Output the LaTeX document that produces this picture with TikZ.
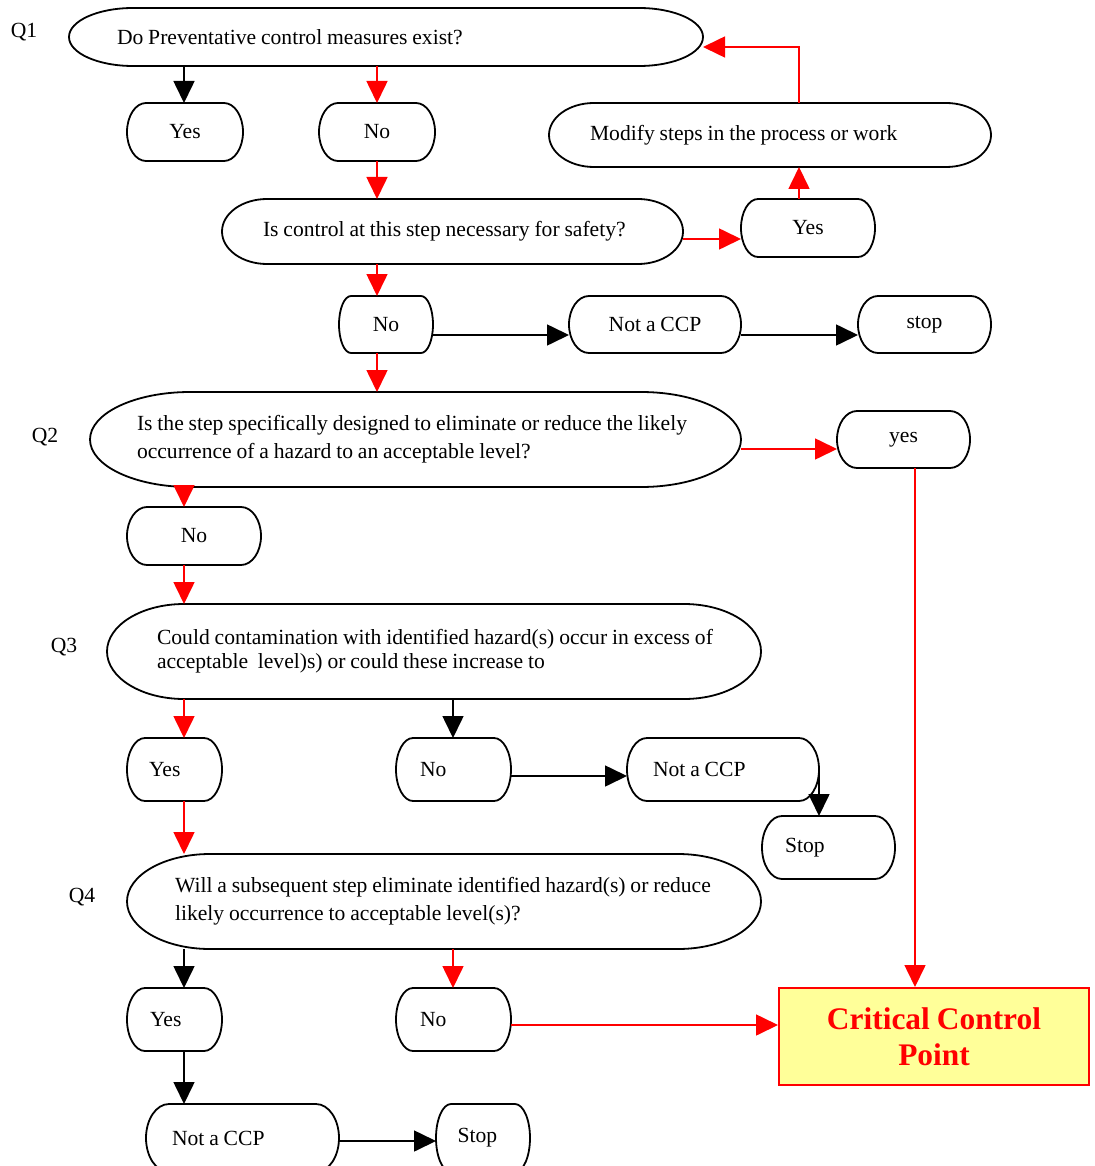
\documentclass[tikz,border=0pt]{standalone}
\usepackage{fontspec}
\setmainfont[WordSpace=0.9]{Liberation Serif}
\usetikzlibrary{arrows.meta,calc}
\definecolor{ccpfill}{RGB}{255,255,153}
\tikzset{
  box/.style={inner sep=0pt, outer sep=0pt, font=\fontsize{10.8pt}{14pt}\selectfont},
  lpad/.style={text width={#1*0.5pt}, align=flush left},
  outl/.style={draw=black, line width=0.9pt},
  conn/.style={line width=0.8pt, -{Triangle[length=11pt,width=10.5pt]}},
  blk/.style={conn, draw=black},
  rd/.style={conn, draw=red},
  qlab/.style={font=\fontsize{10.8pt}{14pt}\selectfont, inner sep=0pt},
  ccpbox/.style={draw=red, line width=1pt, fill=ccpfill, text=red,
    font=\fontsize{15.7pt}{18pt}\selectfont\bfseries, align=center, inner sep=0pt}
}
% #1 options, #2 name, #3 x1, #4 y1, #5 x2, #6 y2, #7 end depth, #8 text
\newcommand{\tnode}[8][]{%
  \node[box,#1, minimum width={(#5-#3)*0.5pt}, minimum height={(#6-#4)*0.5pt}] (#2) at ({(#3+#5)/2},{-(#4+#6)/2}) {#8};
  \draw[outl] ([xshift={#7*0.5pt}]#2.north west) -- ([xshift={-#7*0.5pt}]#2.north east)
     arc[start angle=90, end angle=-90, x radius=#7, y radius={(#6-#4)/2}]
     -- ([xshift={#7*0.5pt}]#2.south west)
     arc[start angle=270, end angle=90, x radius=#7, y radius={(#6-#4)/2}] -- cycle;
}
\begin{document}
\begin{tikzpicture}[x=0.5pt,y=0.5pt]
\useasboundingbox (0,0) rectangle (1094,-1166);

% labels
\node[qlab] (lq1) at (24,-32) {Q1};
\node[qlab] (lq2) at (45,-437) {Q2};
\node[qlab] (lq3) at (64,-647) {Q3};
\node[qlab] (lq4) at (82,-897) {Q4};

% nodes
\tnode[lpad=538]{q1}{69}{8}{703}{66}{64}{\mbox{Do Preventative control measures exist?}}
\tnode{yes1}{127}{103}{243}{161}{19}{Yes}
\tnode{no1}{319}{103}{435}{161}{19}{No}
\tnode[lpad=360]{mod}{549}{103}{991}{167}{45}{\mbox{Modify steps in the process or work}}
\tnode[lpad=379]{q1b}{222}{199}{683}{264}{45}{\mbox{Is control at this step necessary for safety?}}
\tnode{yes2}{741}{199}{875}{257}{17}{Yes}
\tnode{no2}{339}{296}{433}{353}{12}{No}
\tnode{nccp1}{569}{296}{741}{353}{20}{Not a CCP}
\tnode{stop1}{858}{296}{991}{353}{20}{stop}
\tnode[lpad=557]{q2}{90}{392}{741}{487}{100}{\mbox{Is the step specifically designed to eliminate or reduce the likely}\\\mbox{occurrence of a hazard to an acceptable level?}}
\tnode{yes3}{837}{411}{970}{468}{20}{yes}
\tnode{no3}{127}{507}{261}{565}{20}{No}
\tnode[lpad=554, font=\fontsize{10.8pt}{12pt}\selectfont]{q3}{107}{604}{761}{699}{77}{\mbox{Could contamination with identified hazard(s) occur in excess of}\\\mbox{acceptable\ \ level)s) or could these increase to}}
\tnode[lpad=51]{yes4}{127}{738}{222}{801}{18}{Yes}
\tnode[lpad=67]{no4}{396}{738}{511}{801}{17}{No}
\tnode[lpad=140]{nccp2}{627}{738}{819}{801}{20}{Not a CCP}
\tnode[lpad=87]{stop2}{762}{816}{895}{879}{20}{Stop}
\tnode[lpad=538]{q4}{127}{854}{761}{949}{83}{\mbox{Will a subsequent step eliminate identified hazard(s) or reduce}\\\mbox{likely occurrence to acceptable level(s)?}}
\tnode[lpad=49]{yes5}{127}{988}{222}{1051}{18}{Yes}
\tnode[lpad=67]{no5}{396}{988}{511}{1051}{17}{No}
\tnode[lpad=141]{nccp3}{146}{1104}{339}{1172}{23}{Not a CCP}
\tnode[lpad=51]{stop3}{436}{1104}{530}{1172}{15}{Stop}
\node[ccpbox, minimum width=155pt, minimum height=48.5pt] (ccp) at (934,-1036.5) {Critical Control\\Point};

% helper coordinates
\coordinate (cA) at (184,0);
\coordinate (cB) at (377,0);
\coordinate (cC) at (453,0);
\coordinate (cD) at (799,0);
\coordinate (cE) at (915,0);
\coordinate (r47) at (0,-47);
\coordinate (r239) at (0,-239);
\coordinate (r335) at (0,-335);
\coordinate (r449) at (0,-449);
\coordinate (r776) at (0,-776);
\coordinate (r1025) at (0,-1025);
\coordinate (r1141) at (0,-1141);

% connectors
\draw[blk] (q1.south -| cA) -- (yes1.north -| cA);
\draw[rd] (q1.south -| cB) -- (no1.north -| cB);
\draw[rd] (no1.south -| cB) -- (q1b.north -| cB);
\draw[rd] (q1b.east |- r239) -- (yes2.west |- r239);
\draw[rd] (yes2.north -| cD) -- (mod.south -| cD);
\draw[rd] (mod.north -| cD) -- (cD |- r47) -- (q1.east |- r47);
\draw[rd] (q1b.south -| cB) -- (no2.north -| cB);
\draw[blk] (no2.east |- r335) -- (nccp1.west |- r335);
\draw[blk] (nccp1.east |- r335) -- (stop1.west |- r335);
\draw[rd] (no2.south -| cB) -- (q2.north -| cB);
\draw[rd] (q2.east |- r449) -- (yes3.west |- r449);
\draw[rd] (yes3.south -| cE) -- (ccp.north -| cE);
\draw[rd] (q2.south -| cA) -- (no3.north -| cA);
\draw[rd] (no3.south -| cA) -- (q3.north -| cA);
\draw[rd] (q3.south -| cA) -- (yes4.north -| cA);
\draw[blk] (q3.south -| cC) -- (no4.north -| cC);
\draw[blk] (no4.east |- r776) -- (nccp2.west |- r776);
\draw[blk] (nccp2.east) -- (nccp2.east |- stop2.north);
\draw[rd] (yes4.south -| cA) -- (q4.north -| cA);
\draw[blk] (q4.south -| cA) -- (yes5.north -| cA);
\draw[rd] (q4.south -| cC) -- (no5.north -| cC);
\draw[rd] (no5.east |- r1025) -- (ccp.west |- r1025);
\draw[blk] (yes5.south -| cA) -- (nccp3.north -| cA);
\draw[blk] (nccp3.east |- r1141) -- (stop3.west |- r1141);
\end{tikzpicture}
\end{document}
